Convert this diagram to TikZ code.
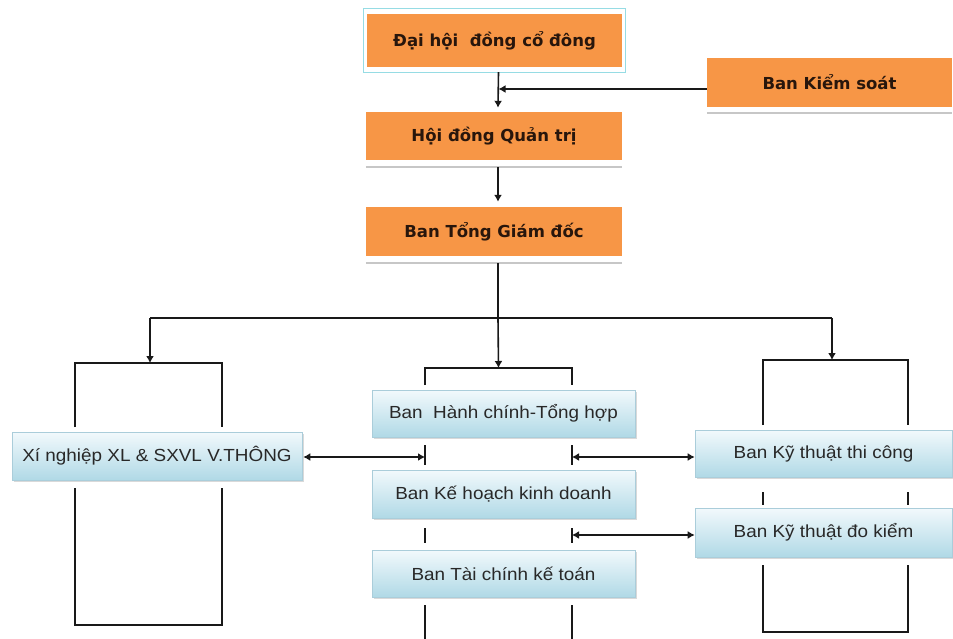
\documentclass[tikz,border=0pt]{standalone}
\usepackage{fontspec}
\setmainfont{Liberation Sans}
\newfontfamily\orfont{DejaVu Sans}
\newfontfamily\blfont{Liberation Sans}[FakeStretch=1.08]
\usetikzlibrary{arrows.meta,shadows}
\definecolor{orfill}{HTML}{F79646}
\definecolor{ortext}{RGB}{40,22,12}
\definecolor{cyanframe}{HTML}{96DCE4}
\definecolor{bltop}{RGB}{242,249,252}
\definecolor{blbot}{RGB}{176,217,230}
\definecolor{blborder}{RGB}{170,205,218}
\definecolor{bltext}{RGB}{40,40,40}
\definecolor{lncol}{RGB}{25,25,25}
\begin{document}
\begin{tikzpicture}[x=1pt,y=-1pt,
  ornode/.style={rectangle, fill=orfill, draw=none, inner sep=0pt, text=ortext,
    font=\orfont\bfseries\fontsize{16.5}{20}\selectfont},
  blnode/.style={rectangle, draw=blborder, line width=0.6pt, top color=bltop, bottom color=blbot,
    drop shadow={shadow xshift=1.5pt, shadow yshift=-2pt, opacity=0.3},
    inner sep=0pt, text=bltext, font=\blfont\fontsize{17.5}{20}\selectfont},
  arr/.style={-{Latex[length=7pt,width=8pt]}, line width=1.6pt, draw=lncol},
  dbl/.style={{Latex[length=7pt,width=8pt]}-{Latex[length=7pt,width=8pt]}, line width=1.5pt, draw=lncol},
  brk/.style={line width=1.5pt, draw=lncol},
  gline/.style={draw=black!22, line width=1.5pt}]
\useasboundingbox (0,0) rectangle (953,639);

% top orange boxes
\node[ornode, minimum width=255pt, minimum height=53pt] (dh) at (494.5,40.5) {Đại hội\ \ đồng cổ đông};
\draw[cyanframe, line width=1pt] ([xshift=-3pt,yshift=5pt]dh.north west) rectangle ([xshift=3pt,yshift=-5pt]dh.south east);
\node[ornode, minimum width=245pt, minimum height=49pt] (ks) at (829.5,82.5) {Ban Kiểm soát};
\node[ornode, minimum width=256pt, minimum height=48pt] (hd) at (494,136) {Hội đồng Quản trị};
\node[ornode, minimum width=256pt, minimum height=49pt] (bt) at (494,231.5) {Ban Tổng Giám đốc};
\draw[gline] ([yshift=-6pt]ks.south west) -- ([yshift=-6pt]ks.south east);
\draw[gline] ([yshift=-7pt]hd.south west) -- ([yshift=-7pt]hd.south east);
\draw[gline] ([yshift=-7pt]bt.south west) -- ([yshift=-7pt]bt.south east);

% top connectors
\coordinate (v) at ([xshift=4pt]dh.south);
\draw[arr] ([xshift=4pt,yshift=-5pt]dh.south) -- ([xshift=4pt,yshift=4pt]hd.north);
\draw[arr] ([yshift=-6.5pt]ks.west) -- ([yshift=-6.5pt]ks.west -| v);
\draw[arr] ([xshift=4pt,yshift=-7pt]hd.south) -- ([xshift=4pt,yshift=5pt]bt.north);
\coordinate (hub) at ([xshift=4pt,yshift=-62pt]bt.south);
\coordinate (Lt) at (150,363);
\coordinate (Mt) at (498.5,368);
\coordinate (Rt) at (832,360);
\draw[brk] ([xshift=4pt,yshift=-7pt]bt.south) -- (hub);
\draw[brk] (hub -| Lt) -- (hub -| Rt);
\draw[arr] (hub -| Lt) -- (Lt);
\draw[arr] (hub) -- (Mt);
\draw[arr] (hub -| Rt) -- (Rt);

% brackets
\draw[brk] (75,427) -- (75,363) -- (222,363) -- (222,427);
\draw[brk] (75,488) -- (75,625) -- (222,625) -- (222,488);
\draw[brk] (425,385) -- (425,368) -- (572,368) -- (572,385);
\draw[brk] (425,445) -- (425,465) (572,445) -- (572,465);
\draw[brk] (425,528) -- (425,543) (572,528) -- (572,543);
\draw[brk] (425,605) -- (425,639) (572,605) -- (572,639);
\draw[brk] (763,425) -- (763,360) -- (908,360) -- (908,425);
\draw[brk] (763,492) -- (763,505) (908,492) -- (908,505);
\draw[brk] (763,565) -- (763,632) -- (908,632) -- (908,565);

% blue boxes
\node[blnode, minimum width=290pt, minimum height=48pt] (xn) at (157,456) {Xí nghiệp XL \& SXVL V.THÔNG};
\node[blnode, minimum width=263pt, minimum height=47pt] (hc) at (503.5,413.5) {Ban\ \ Hành chính-Tổng hợp};
\node[blnode, minimum width=263pt, minimum height=48pt] (kh) at (503.5,494) {Ban Kế hoạch kinh doanh};
\node[blnode, minimum width=263pt, minimum height=47pt] (tc) at (503.5,573.5) {Ban Tài chính kế toán};
\node[blnode, minimum width=257pt, minimum height=47pt] (tcg) at (823.5,453.5) {Ban Kỹ thuật thi công};
\node[blnode, minimum width=257pt, minimum height=49pt] (dk) at (823.5,532.5) {Ban Kỹ thuật đo kiểm};

% double arrows
\coordinate (ml) at (425,0);
\coordinate (mr) at (572,0);
\draw[dbl] ([xshift=1pt,yshift=-1pt]xn.east) -- ([yshift=-1pt]xn.east -| ml);
\draw[dbl] ([yshift=-3.5pt]tcg.west -| mr) -- ([yshift=-3.5pt]tcg.west);
\draw[dbl] ([yshift=-2.5pt]dk.west -| mr) -- ([yshift=-2.5pt]dk.west);
\end{tikzpicture}
\end{document}
